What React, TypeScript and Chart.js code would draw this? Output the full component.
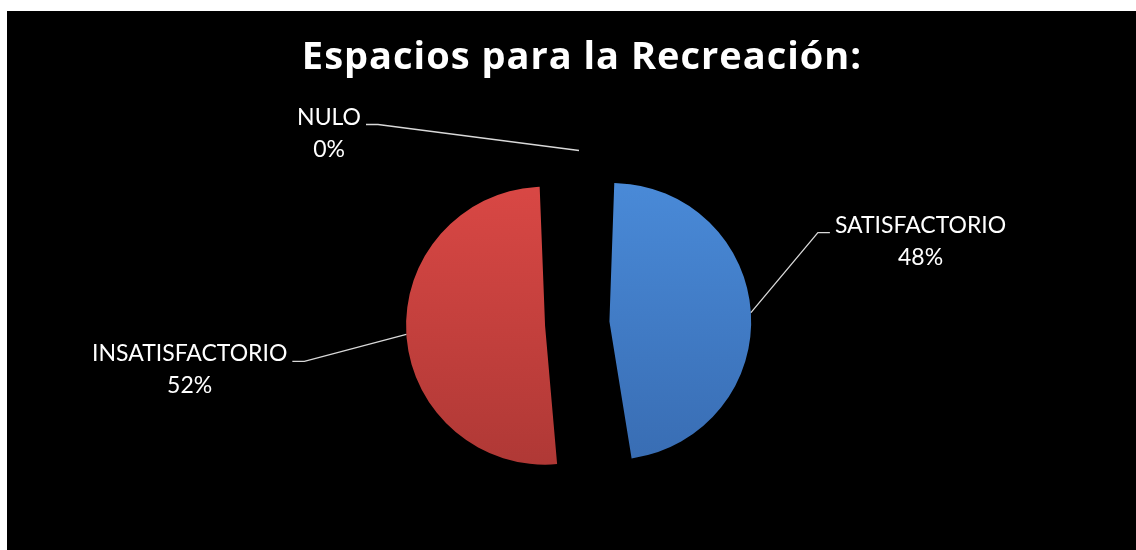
import React, { useEffect, useRef } from "react";
import { Chart, registerables } from "chart.js";

Chart.register(...registerables);

const TITLE = "Espacios para la Recreación:";
const categories = ["SATISFACTORIO", "INSATISFACTORIO", "NULO"];
const values = [48, 52, 0];

const sliceTop = ["#4a8bd9", "#da4845", "#9bbb59"];
const sliceBottom = ["#386cb2", "#ae3835", "#9bbb59"];
// extra rim so both exploded halves keep the same visible radius
const sliceRim = [7, 0, 0];

// leader-line elbow relative to the slice's outer point, and which side the text sits on
const labelLayout = [
  { dx: 67, dy: -80, side: 1 },
  { dx: -102, dy: 27, side: -1 },
  { dx: -201, dy: -26, side: -1 },
];

const LABEL_FONT = "23px Lato, 'Open Sans', sans-serif";
const TITLE_FONT = "bold 38px 'Open Sans', Lato, sans-serif";

const sliceFill = (c: any) => {
  const ch = c.chart;
  const i = c.dataIndex;
  const area = ch.chartArea;
  if (!area || i === undefined) return sliceTop[i || 0];
  const cy = (area.top + area.bottom) / 2;
  const g = ch.ctx.createLinearGradient(0, cy - 150, 0, cy + 150);
  g.addColorStop(0, sliceTop[i]);
  g.addColorStop(1, sliceBottom[i]);
  return g;
};

const labelPlugin = {
  id: "excelLabels",
  afterDraw(chart: any) {
    const ctx = chart.ctx;
    const meta = chart.getDatasetMeta(0);
    const total = values.reduce((a, b) => a + b, 0);
    ctx.save();
    ctx.fillStyle = "#ffffff";
    ctx.font = TITLE_FONT;
    ctx.textAlign = "center";
    ctx.textBaseline = "alphabetic";
    (ctx as any).letterSpacing = "1px";
    ctx.fillText(TITLE, 575, 58);
    (ctx as any).letterSpacing = "0px";

    meta.data.forEach((arc: any, i: number) => {
      const p = arc.getProps(["x", "y", "startAngle", "endAngle", "outerRadius", "circumference"], true);
      const shift = (arc.options.offset || 0) / 4;
      const fix = 1 - Math.sin(Math.min(Math.PI, p.circumference || 0));
      const rimR = p.outerRadius + shift * fix + (arc.options.borderWidth || 0) / 2;
      const mid = (p.startAngle + p.endAngle) / 2;
      const ax = p.x + Math.cos(mid) * (shift + rimR);
      const ay = p.y + Math.sin(mid) * (shift + rimR);
      const L = labelLayout[i];
      const ex = ax + L.dx;
      const ey = ay + L.dy;
      const hx = ex + L.side * 12;
      ctx.strokeStyle = "#d9d9d9";
      ctx.lineWidth = 1.3;
      ctx.beginPath();
      ctx.moveTo(ax, ay);
      ctx.lineTo(ex, ey);
      ctx.lineTo(hx, ey);
      ctx.stroke();

      const line1 = categories[i];
      const line2 = Math.round((values[i] / total) * 100) + "%";
      ctx.font = LABEL_FONT;
      const w1 = ctx.measureText(line1).width;
      const cx = L.side > 0 ? hx + 5 + w1 / 2 : hx - 5 - w1 / 2;
      ctx.fillStyle = "#ffffff";
      ctx.textAlign = "center";
      ctx.textBaseline = "alphabetic";
      ctx.fillText(line1, cx, ey);
      ctx.fillText(line2, cx, ey + 32);
    });
    ctx.restore();
  },
};

export default function App() {
  const ref = useRef<HTMLCanvasElement | null>(null);
  useEffect(() => {
    if (!ref.current) return;
    const chart = new Chart(ref.current, {
      type: "pie",
      data: {
        labels: categories,
        datasets: [
          {
            data: values,
            backgroundColor: sliceFill,
            borderColor: sliceFill,
            borderWidth: (c: any) => sliceRim[c.dataIndex] || 0,
            borderAlign: "center",
            borderJoinStyle: "miter",
            offset: 136,
            hoverOffset: 0,
          },
        ],
      },
      options: {
        responsive: true,
        maintainAspectRatio: false,
        animation: false,
        radius: 105,
        layout: { padding: { left: 15, top: 86, right: 0, bottom: 0 } },
        plugins: {
          legend: { display: false },
          tooltip: { enabled: false },
          title: { display: false },
        },
      } as any,
      plugins: [labelPlugin],
    });
    return () => chart.destroy();
  }, []);
  return (
    <div
      style={{
        position: "absolute",
        left: 7,
        top: 11,
        width: 1129,
        height: 539,
        background: "#000000",
      }}
    >
      <canvas ref={ref} />
    </div>
  );
}
